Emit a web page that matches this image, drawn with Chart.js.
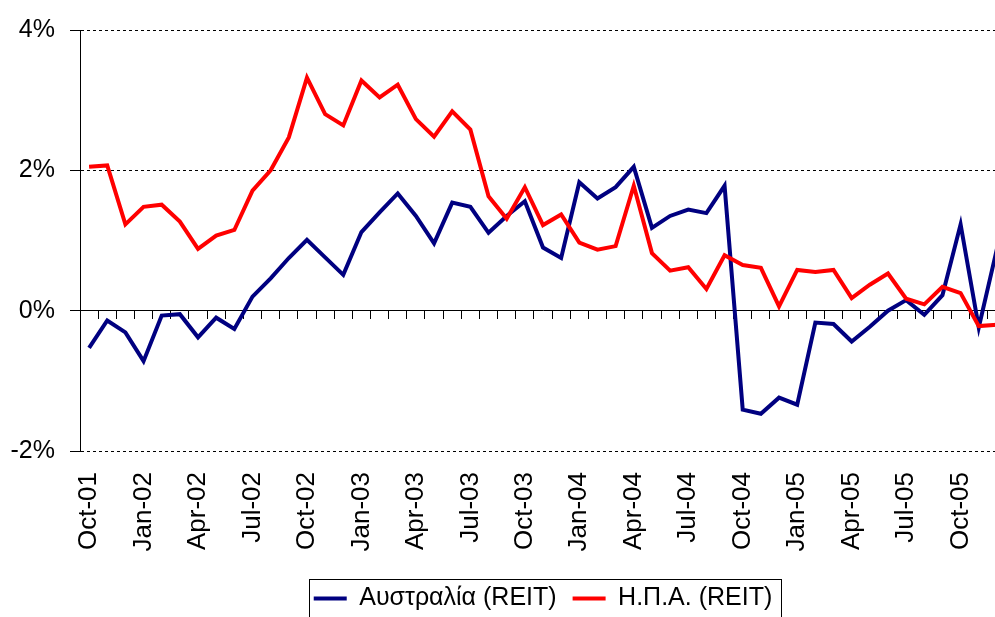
<!DOCTYPE html>
<html>
<head>
<meta charset="utf-8">
<script src="https://cdn.jsdelivr.net/npm/chart.js@4/dist/chart.umd.min.js"></script>
<style>
  html, body { margin: 0; padding: 0; background: #fff; overflow: hidden; width: 995px; height: 617px; }
  #wrap { position: absolute; left: 0; top: 0; }
</style>
</head>
<body>
<div id="wrap"><canvas id="c" width="1012" height="621"></canvas></div>
<script>
const categories = [
  'Oct-01','Nov-01','Dec-01',
  'Jan-02','Feb-02','Mar-02','Apr-02','May-02','Jun-02','Jul-02','Aug-02','Sep-02','Oct-02','Nov-02','Dec-02',
  'Jan-03','Feb-03','Mar-03','Apr-03','May-03','Jun-03','Jul-03','Aug-03','Sep-03','Oct-03','Nov-03','Dec-03',
  'Jan-04','Feb-04','Mar-04','Apr-04','May-04','Jun-04','Jul-04','Aug-04','Sep-04','Oct-04','Nov-04','Dec-04',
  'Jan-05','Feb-05','Mar-05','Apr-05','May-05','Jun-05','Jul-05','Aug-05','Sep-05','Oct-05','Nov-05','Dec-05'
];
const tickLabels = ['Oct-01','Jan-02','Apr-02','Jul-02','Oct-02','Jan-03','Apr-03','Jul-03','Oct-03',
  'Jan-04','Apr-04','Jul-04','Oct-04','Jan-05','Apr-05','Jul-05','Oct-05'];
const yTicks = [-2, 0, 2, 4];

const australia = [
  -0.53, -0.14, -0.31, -0.72, -0.07, -0.05, -0.38, -0.10, -0.26,
  0.20, 0.46, 0.75, 1.01, 0.76, 0.51, 1.12, 1.40, 1.67, 1.35,
  0.96, 1.54, 1.48, 1.11, 1.35, 1.56, 0.90, 0.75, 1.83, 1.60,
  1.76, 2.05, 1.18, 1.35, 1.44, 1.39, 1.78, -1.41, -1.47, -1.24,
  -1.34, -0.17, -0.19, -0.44, -0.23, 0.00, 0.15, -0.06, 0.22, 1.23,
  -0.24, 0.88
];
const usa = [
  2.05, 2.07, 1.23, 1.48, 1.51, 1.27, 0.88, 1.07, 1.15, 1.71,
  2.00, 2.47, 3.32, 2.80, 2.64, 3.28, 3.04, 3.22, 2.73, 2.48,
  2.84, 2.58, 1.63, 1.31, 1.76, 1.22, 1.37, 0.97, 0.87, 0.92,
  1.78, 0.82, 0.57, 0.62, 0.31, 0.79, 0.65, 0.61, 0.06, 0.58,
  0.55, 0.58, 0.18, 0.37, 0.53, 0.17, 0.09, 0.34, 0.25, -0.22,
  -0.20
];
const seriesNames = ['Αυστραλία (REIT)', 'Η.Π.Α. (REIT)'];

const FONT = "'Liberation Sans', Arial, sans-serif";

const legendBox = {
  id: 'legendBox',
  afterDraw(chart) {
    const hb = chart.legend && chart.legend.legendHitBoxes;
    if (!hb || !hb.length) return;
    const ctx = chart.ctx;
    const first = hb[0], last = hb[hb.length - 1];
    const left = Math.round(first.left - 5) + 0.5;
    const right = Math.round(last.left + last.width + 9) + 0.5;
    const top = Math.round(first.top - 7) + 0.5;
    const bottom = top + 70;
    ctx.save();
    ctx.strokeStyle = '#000';
    ctx.lineWidth = 1;
    ctx.strokeRect(left, top, right - left, bottom - top);
    ctx.restore();
  }
};

new Chart(document.getElementById('c'), {
  type: 'line',
  data: {
    labels: categories,
    datasets: [
      { label: seriesNames[0], data: australia, borderColor: '#000080', backgroundColor: '#000080',
        borderWidth: 4, pointRadius: 0, tension: 0, order: 1 },
      { label: seriesNames[1], data: usa, borderColor: '#FF0000', backgroundColor: '#FF0000',
        borderWidth: 4, pointRadius: 0, tension: 0, order: 0 }
    ]
  },
  options: {
    responsive: false,
    animation: false,
    layout: { padding: { left: 0, right: 6, top: 25, bottom: 0 } },
    plugins: {
      tooltip: { enabled: false },
      legend: {
        position: 'bottom',
        fullSize: false,
        labels: {
          usePointStyle: true,
          pointStyle: 'line',
          pointStyleWidth: 33,
          padding: 16,
          color: '#000',
          font: { family: FONT, size: 25 },
          sort: (a, b) => a.datasetIndex - b.datasetIndex
        }
      }
    },
    scales: {
      x: {
        type: 'category',
        position: 'bottom',
        offset: true,
        grid: { display: false, drawTicks: false },
        border: { display: false },
        ticks: {
          autoSkip: false,
          maxRotation: 90,
          minRotation: 90,
          padding: 21,
          color: '#000',
          font: { family: FONT, size: 26 },
          callback: function (value) {
            const lab = this.getLabelForValue(value);
            return tickLabels.includes(lab) ? lab : '';
          }
        },
        afterFit: (s) => { s.paddingLeft = 0; s.paddingRight = 0; s.height = 119; }
      },
      x2: {
        type: 'category',
        labels: categories,
        position: { y: 0 },
        offset: true,
        grid: { offset: true, drawOnChartArea: false, drawTicks: true, tickLength: 8, color: '#000', tickColor: '#000' },
        border: { display: true, color: '#000', width: 1 },
        ticks: { display: false },
        afterFit: (s) => { s.paddingLeft = 0; s.paddingRight = 0; }
      },
      y: {
        min: -2,
        max: 4,
        afterBuildTicks: (s) => { s.ticks = yTicks.map(v => ({ value: v })); },
        grid: {
          color: (c) => (c.tick && c.tick.value === 0) ? 'rgba(0,0,0,0)' : '#000',
          tickColor: '#000',
          tickLength: 10,
          lineWidth: 1
        },
        border: { display: true, color: '#000', width: 1, dash: [3, 3] },
        ticks: {
          padding: 15,
          color: '#000',
          font: { family: FONT, size: 25 },
          callback: (v) => v + '%'
        },
        afterFit: (s) => { s.width = 80; }
      }
    }
  },
  plugins: [legendBox]
});
</script>
</body>
</html>
